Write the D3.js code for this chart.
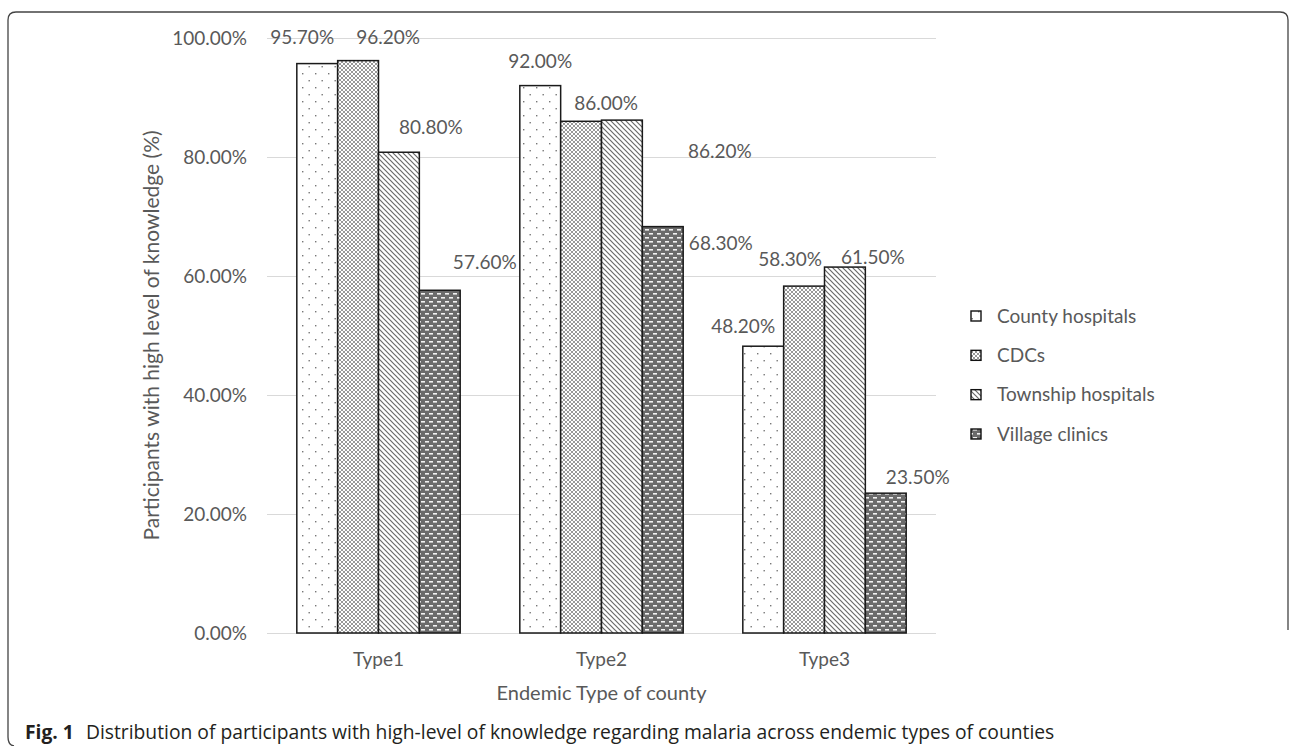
<!DOCTYPE html>
<html><head><meta charset="utf-8">
<script src="https://cdn.jsdelivr.net/npm/d3@7"></script>
<style>
html,body{margin:0;padding:0;background:#fff;}
svg{display:block;}
</style></head>
<body>
<svg id="chart" width="1291" height="746"></svg>
<script>
// ---- data ----
const categories = ["Type1", "Type2", "Type3"];
const series = ["County hospitals", "CDCs", "Township hospitals", "Village clinics"];
const countyHospitals = [95.7, 92.0, 48.2];
const cdcs = [96.2, 86.0, 58.3];
const townshipHospitals = [80.8, 86.2, 61.5];
const villageClinics = [57.6, 68.3, 23.5];
const yTicks = [0, 20, 40, 60, 80, 100];
// manual label placement offsets (px from bar centre / bar top), as in the reference
const labelDx = [[-15, 0, -20], [30, 25, -14], [32, 98, 28], [45, 58, 32]];
const labelDy = [[-26, -24, -20], [-23, -18, -27], [-25, 31, -10], [-28, 17, -16]];

const values = [countyHospitals, cdcs, townshipHospitals, villageClinics];

const svg = d3.select("#chart");
const font = "Lato, 'Open Sans', sans-serif";
const grey = "#595959";

// ---- patterns ----
const defs = svg.append("defs");
// dotted
let p = defs.append("pattern").attr("id", "p0").attr("patternUnits", "userSpaceOnUse")
  .attr("width", 13).attr("height", 14);
p.append("rect").attr("width", 13).attr("height", 14).attr("fill", "#fff");
p.append("rect").attr("x", 3).attr("y", 3).attr("width", 1.4).attr("height", 1.4).attr("fill", "#777");
p.append("rect").attr("x", 9.5).attr("y", 10).attr("width", 1.4).attr("height", 1.4).attr("fill", "#777");
// lattice
p = defs.append("pattern").attr("id", "p1").attr("patternUnits", "userSpaceOnUse")
  .attr("width", 4).attr("height", 4);
p.append("rect").attr("width", 4).attr("height", 4).attr("fill", "#fff");
p.append("path").attr("d", "M0,0L4,4M4,0L0,4").attr("stroke", "#8c8c8c").attr("stroke-width", 0.9);
// diagonal
p = defs.append("pattern").attr("id", "p2").attr("patternUnits", "userSpaceOnUse")
  .attr("width", 5).attr("height", 5);
p.append("rect").attr("width", 5).attr("height", 5).attr("fill", "#fff");
p.append("path").attr("d", "M-1,-1L6,6M-1,4L1,6M4,-1L6,1").attr("stroke", "#6a6a6a").attr("stroke-width", 1.2);
// dark with dashes
p = defs.append("pattern").attr("id", "p3").attr("patternUnits", "userSpaceOnUse")
  .attr("width", 8).attr("height", 8);
p.append("rect").attr("width", 8).attr("height", 8).attr("fill", "#6b6b6b");
p.append("rect").attr("x", 1).attr("y", 1).attr("width", 4).attr("height", 1.6).attr("fill", "#f2f2f2");
p.append("rect").attr("x", 5).attr("y", 5).attr("width", 4).attr("height", 1.6).attr("fill", "#f2f2f2");
p.append("rect").attr("x", -3).attr("y", 5).attr("width", 4).attr("height", 1.6).attr("fill", "#f2f2f2");

// ---- frame ----
svg.append("path")
  .attr("d", "M1288,630 L1288,20 Q1288,12 1280,12 L16,12 Q8,12 8,20 L8,737 Q8,745 14,746")
  .attr("fill", "none").attr("stroke", "#444").attr("stroke-width", 1.3);

// ---- scales ----
const plot = {left: 267, right: 936, top: 38, bottom: 633};
const y = d3.scaleLinear().domain([0, 100]).range([plot.bottom, plot.top]);
const x0 = d3.scaleBand().domain(categories).range([plot.left, plot.right]).paddingInner(0).paddingOuter(0);
const x1 = d3.scaleBand().domain(series).range([0, x0.bandwidth()]).paddingInner(0).paddingOuter(0.73);

// gridlines
const yAxis = d3.axisLeft(y).tickValues(yTicks).tickSize(-(plot.right - plot.left))
  .tickFormat(d => d3.format(".2f")(d) + "%").tickPadding(20);
const gy = svg.append("g").attr("transform", `translate(${plot.left},0)`).call(yAxis);
gy.select(".domain").remove();
gy.selectAll(".tick line").attr("stroke", "#d9d9d9").attr("stroke-width", 1.2);
gy.selectAll(".tick text").attr("fill", grey).style("font-family", font).style("font-size", "19px");

// x axis labels
const xAxis = d3.axisBottom(x0).tickSize(0).tickPadding(20);
const gx = svg.append("g").attr("transform", `translate(0,${plot.bottom})`).call(xAxis);
gx.select(".domain").remove();
gx.selectAll(".tick text").attr("fill", grey).style("font-family", font).style("font-size", "19px");

// bars
series.forEach((s, si) => {
  svg.append("g").selectAll("rect").data(values[si]).join("rect")
    .attr("x", (d, i) => x0(categories[i]) + x1(s))
    .attr("y", d => y(d))
    .attr("width", x1.bandwidth())
    .attr("height", d => y(0) - y(d))
    .attr("fill", `url(#p${si})`)
    .attr("stroke", "#1a1a1a").attr("stroke-width", 1.5);
});
// labels
series.forEach((s, si) => {
  svg.append("g").selectAll("text").data(values[si]).join("text")
    .attr("x", (d, i) => x0(categories[i]) + x1(s) + x1.bandwidth() / 2 + labelDx[si][i])
    .attr("y", (d, i) => y(d) + labelDy[si][i])
    .attr("dy", "0.35em")
    .attr("text-anchor", "middle")
    .attr("fill", grey).style("font-family", font).style("font-size", "19px")
    .text(d => d3.format(".2f")(d) + "%");
});

// axis titles
svg.append("text")
  .attr("transform", `translate(152,${(plot.top + plot.bottom) / 2}) rotate(-90)`)
  .attr("text-anchor", "middle").attr("dy", "0.35em")
  .attr("fill", grey).style("font-family", font).style("font-size", "21px")
  .text("Participants with high level of knowledge (%)");
svg.append("text")
  .attr("x", (plot.left + plot.right) / 2).attr("y", 693).attr("dy", "0.35em")
  .attr("text-anchor", "middle")
  .attr("fill", grey).style("font-family", font).style("font-size", "20px")
  .text("Endemic Type of county");

// legend
const lg = svg.append("g");
const legendY = d3.scalePoint().domain(series).range([316, 434]);
lg.selectAll("rect").data(series).join("rect")
  .attr("x", 971).attr("y", d => legendY(d) - 5).attr("width", 10).attr("height", 10)
  .attr("fill", (d, i) => `url(#p${i})`).attr("stroke", "#111").attr("stroke-width", 1.4);
lg.selectAll("text").data(series).join("text")
  .attr("x", 997).attr("y", d => legendY(d)).attr("dy", "0.35em")
  .attr("fill", grey).style("font-family", font).style("font-size", "19px")
  .text(d => d);

// caption
const cap = svg.append("text").attr("x", 25).attr("y", 739)
  .attr("fill", "#231f20").style("font-family", "'Open Sans', 'Noto Sans', sans-serif").style("font-size", "19.3px");
cap.append("tspan").attr("font-weight", "bold").text("Fig. 1");
cap.append("tspan").attr("dx", 12).text("Distribution of participants with high-level of knowledge regarding malaria across endemic types of counties");
</script>
</body></html>
